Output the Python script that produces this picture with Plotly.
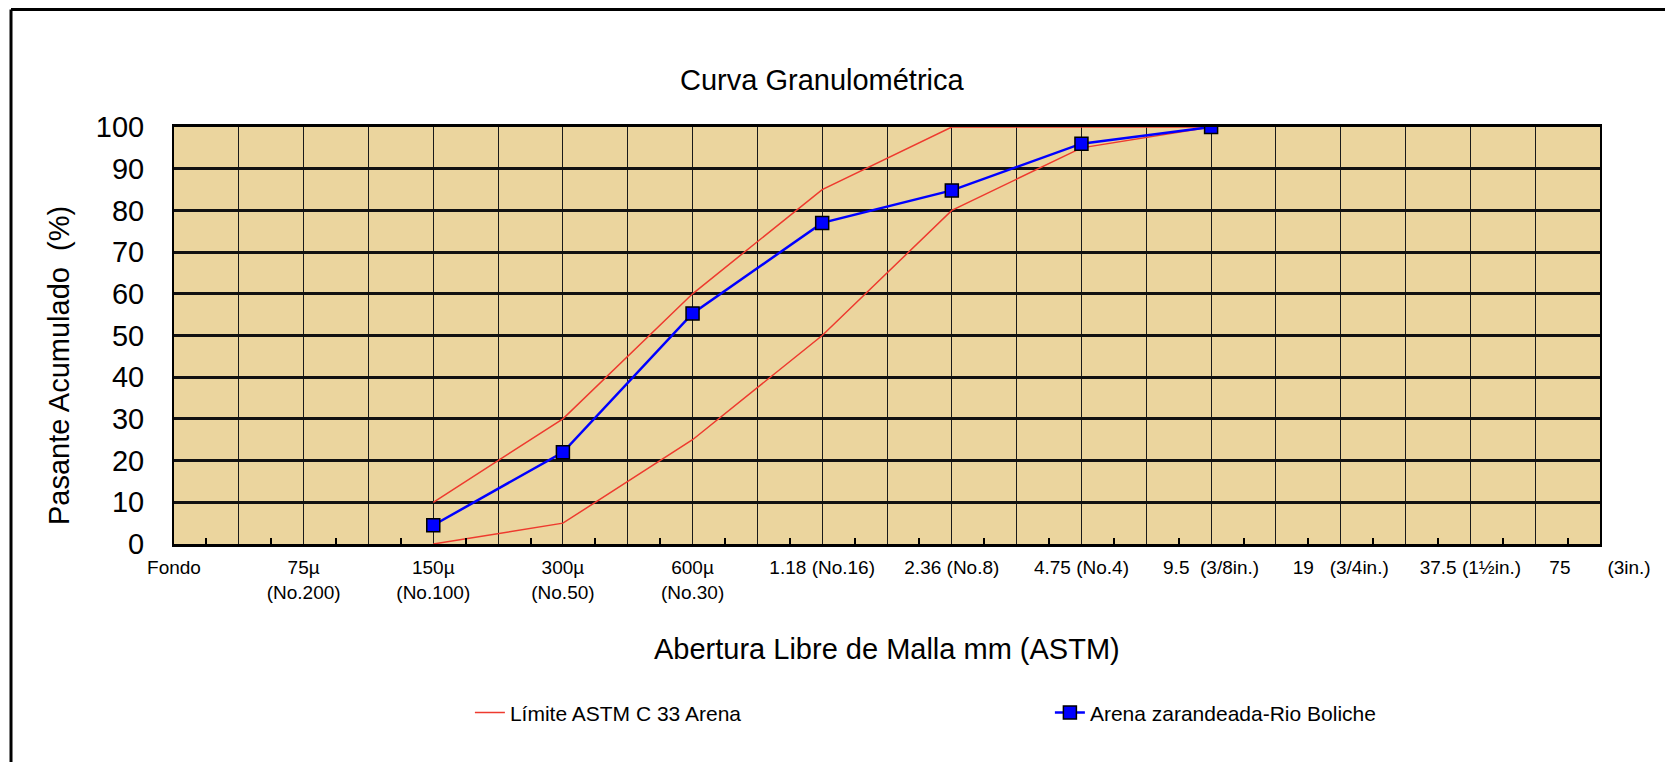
import plotly.graph_objects as go

# etiquetas del eje x (tamices ASTM)
sieve_labels = [
    "Fondo",
    "75µ<br>(No.200)",
    "150µ<br>(No.100)",
    "300µ<br>(No.50)",
    "600µ<br>(No.30)",
    "1.18 (No.16)",
    "2.36 (No.8)",
    "4.75 (No.4)",
    "9.5\u00a0\u00a0(3/8in.)",
    "19\u00a0\u00a0\u00a0(3/4in.)",
    "37.5 (1½in.)",
    "75\u00a0\u00a0\u00a0\u00a0\u00a0\u00a0\u00a0(3in.)",
]
sieve_keys = ["Fondo", "75µ", "150µ", "300µ", "600µ", "1.18", "2.36",
              "4.75", "9.5", "19", "37.5", "75"]

# datos del ensayo
sieves = ["150µ", "300µ", "600µ", "1.18", "2.36", "4.75", "9.5"]
sample = [4.5, 22, 55.3, 77, 84.8, 96, 100]
upper_limit = [10, 30, 60, 85, 100, 100, 100]
lower_limit = [0, 5, 25, 50, 80, 95, 100]

x_pos = [sieve_keys.index(s) for s in sieves]
n = len(sieve_keys) - 1

FONT = "Liberation Sans, Arial, sans-serif"
RED = "#EE3A2E"

fig = go.Figure()
fig.add_trace(go.Scatter(x=x_pos, y=upper_limit, mode="lines", name="Límite ASTM C 33 Arena",
                         legendgroup="astm", line=dict(color=RED, width=1.5)))
fig.add_trace(go.Scatter(x=x_pos, y=lower_limit, mode="lines", name="Límite ASTM C 33 Arena",
                         legendgroup="astm", showlegend=False, line=dict(color=RED, width=1.5)))
fig.add_trace(go.Scatter(x=x_pos, y=sample, mode="lines+markers", name="Arena zarandeada-Rio Boliche",
                         line=dict(color="#0000FF", width=2.5),
                         marker=dict(symbol="square", size=13, color="#0000FF",
                                     line=dict(color="black", width=1.5))))

half_ticks = [i / 2 for i in range(2 * n + 1)]
half_text = [sieve_labels[int(v)] if v == int(v) else "" for v in half_ticks]

fig.update_xaxes(
    range=[0, n], tickmode="array", tickvals=half_ticks, ticktext=half_text,
    showgrid=True, gridcolor="#1a1a1a", gridwidth=1.2, zeroline=False,
    showline=True, linecolor="black", linewidth=3, mirror=True,
    ticks="", ticklabelstandoff=4,
    tickfont=dict(family=FONT, size=19, color="black"),
    minor=dict(tickmode="linear", tick0=0.25, dtick=0.5, ticks="inside",
               ticklen=6, tickwidth=2, tickcolor="black", showgrid=False),
)
fig.update_yaxes(
    range=[0, 100], dtick=10, showgrid=True, gridcolor="#111111", gridwidth=2.5,
    zeroline=False, showline=True, linecolor="black", linewidth=2, mirror=True,
    ticks="", ticklabelstandoff=22,
    tickfont=dict(family=FONT, size=29, color="black"),
)

# la página añade 8 px de margen al cuerpo: se compensa en el tamaño y márgenes
fig.update_layout(
    width=1665, height=754,
    margin=dict(l=166, r=73, t=119, b=218, autoexpand=False),
    paper_bgcolor="white", plot_bgcolor="#EBD59E",
    showlegend=True,
    legend=dict(orientation="h", x=0.2075, y=-0.405, xanchor="left", yanchor="middle",
                entrywidth=535, entrywidthmode="pixels",
                font=dict(family=FONT, size=21, color="black"), bgcolor="rgba(0,0,0,0)"),
    annotations=[
        dict(text="Curva Granulométrica", x=0.455, y=1.113, xref="paper", yref="paper",
             xanchor="center", yanchor="middle",
             showarrow=False, font=dict(family=FONT, size=29, color="black")),
        dict(text="Abertura Libre de Malla mm (ASTM)", x=0.5, y=-0.252, xref="paper", yref="paper",
             xanchor="center", yanchor="middle",
             showarrow=False, font=dict(family=FONT, size=29, color="black")),
        dict(text="Pasante Acumulado\u00a0\u00a0(%)", x=-0.0806, y=0.427, xref="paper", yref="paper",
             xanchor="center", yanchor="middle",
             showarrow=False, textangle=-90, font=dict(family=FONT, size=29, color="black")),
    ],
    shapes=[
        # marco exterior (solo arriba e izquierda)
        dict(type="line", xref="paper", yref="paper", x0=-0.1143, x1=1.06, y0=1.2818, y1=1.2818,
             line=dict(color="black", width=3)),
        dict(type="line", xref="paper", yref="paper", x0=-0.1143, x1=-0.1143, y0=1.2818, y1=-0.53,
             line=dict(color="black", width=3)),
    ],
)

fig.write_html("out.html")
